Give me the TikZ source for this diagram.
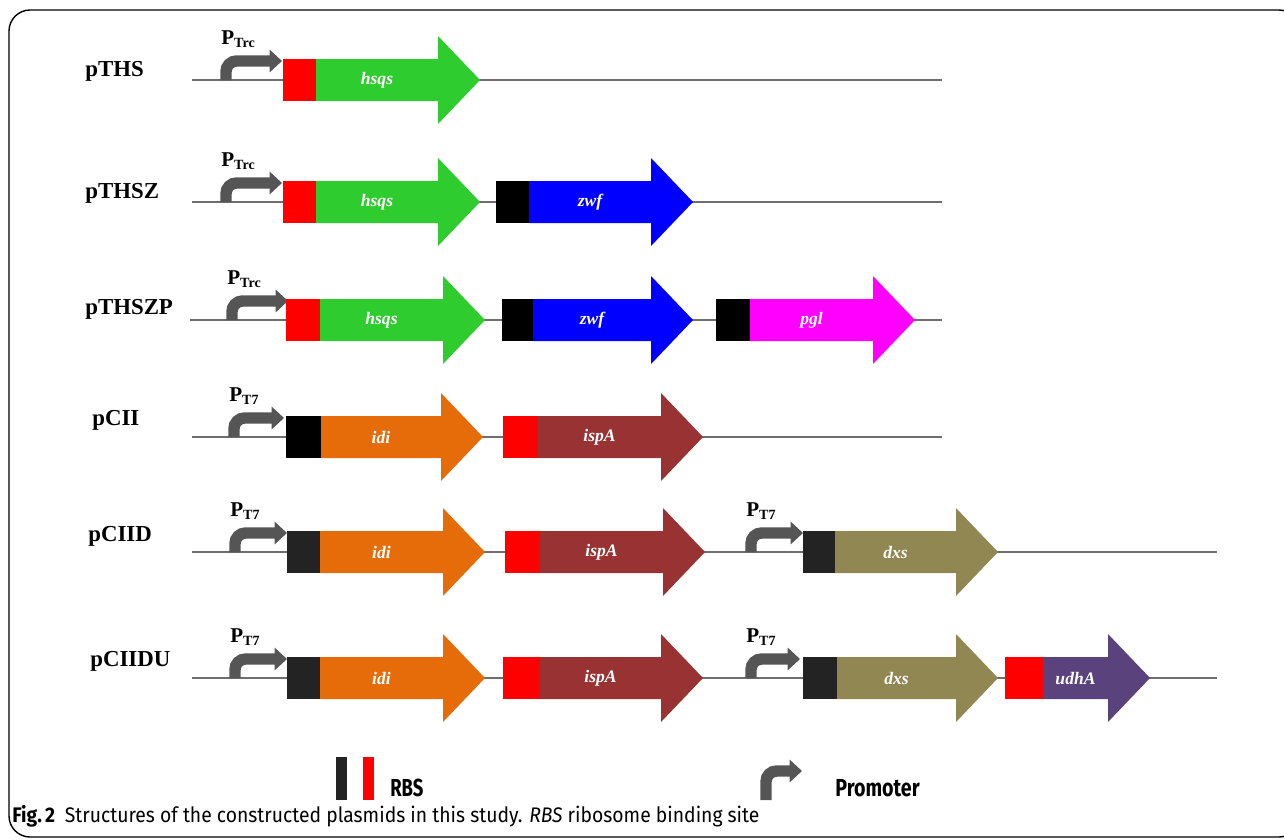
\documentclass[tikz,border=0pt]{standalone}
\usepackage{fontspec}
\usepackage{graphicx}
\setmainfont{Liberation Serif}
\setsansfont{Fira Sans}
\usetikzlibrary{arrows.meta}

\definecolor{hsqsgreen}{RGB}{46,204,46}
\definecolor{zwfblue}{RGB}{0,0,255}
\definecolor{pglpink}{RGB}{255,0,255}
\definecolor{idiorange}{RGB}{230,108,10}
\definecolor{ispabrown}{RGB}{153,51,51}
\definecolor{dxskhaki}{RGB}{145,135,82}
\definecolor{udhapurple}{RGB}{90,66,124}
\definecolor{rbsred}{RGB}{255,0,0}
\definecolor{rbsdark}{RGB}{35,35,35}
\definecolor{promgray}{RGB}{85,85,85}
\definecolor{linegray}{RGB}{110,110,110}

\tikzset{
  backbone/.style={draw=linegray, line width=1.2pt},
  promarrow/.style={draw=promgray, line width=6.5pt, rounded corners=6pt,
    -{Triangle[length=7pt,width=12.5pt]}},
  promlabel/.style={font=\bfseries\fontsize{12}{12}\selectfont, inner sep=0pt},
  genelabel/.style={text=white, font=\bfseries\itshape\fontsize{10}{10}\selectfont, inner sep=0pt},
  plasmid/.style={font=\bfseries\fontsize{13}{13}\selectfont, inner sep=0pt, anchor=base west},
}

% rbs x, body x, tip x, y, rbs colour, gene colour, gene name, node name
\newcommand{\gene}[8]{%
  \fill[#5] (#1,#4-21) rectangle (#2,#4+21);
  \fill[#6] (#2,#4-21) -- (#3-42,#4-21) -- (#3-42,#4-44) -- (#3,#4)
     -- (#3-42,#4+44) -- (#3-42,#4+21) -- (#2,#4+21) -- cycle;
  \node[genelabel] (#8) at ({(#2+#3-42)/2},#4) {#7};
}
% x of the bend, y of the backbone, x of the tip, promoter name, node name
\newcommand{\promo}[5]{%
  \draw[promarrow] (#1,#2) -- (#1,#2-19) -- (#3,#2-19);
  \node[promlabel, anchor=base west] (#5) at (#1-5,#2-36) {P\textsubscript{#4}};
}

\begin{document}
\begin{tikzpicture}[x=0.02cm, y=-0.02cm]
  \useasboundingbox (0,0) rectangle (1284,839);
  % frame
  \draw[line width=0.8pt, rounded corners=12pt] (9,10) rectangle (1300,837);

  % pTHS
  \node[plasmid] (pTHS) at (85,76) {pTHS};
  \draw[backbone] (192,80) -- (942,80);
  \promo{226}{80}{282}{Trc}{p1}
  \gene{283}{316}{480}{80}{rbsred}{hsqsgreen}{hsqs}{g11}

  % pTHSZ
  \node[plasmid] (pTHSZ) at (85,198) {pTHSZ};
  \draw[backbone] (192,202) -- (942,202);
  \promo{226}{202}{282}{Trc}{p2}
  \gene{283}{316}{480}{202}{rbsred}{hsqsgreen}{hsqs}{g21}
  \gene{496}{529}{693}{202}{black}{zwfblue}{zwf}{g22}

  % pTHSZP
  \node[plasmid] (pTHSZP) at (85,314) {pTHSZP};
  \draw[backbone] (190,320) -- (942,320);
  \promo{232}{320}{288}{Trc}{p3}
  \gene{286}{320}{485}{320}{rbsred}{hsqsgreen}{hsqs}{g31}
  \gene{502}{533}{693}{320}{black}{zwfblue}{zwf}{g32}
  \gene{716}{750}{915}{320}{black}{pglpink}{pgl}{g33}

  % pCII
  \node[plasmid] (pCII) at (92,425) {pCII};
  \draw[backbone] (192,437) -- (942,437);
  \promo{234}{437}{284}{T7}{p4}
  \gene{286}{321}{483}{437}{black}{idiorange}{idi}{g41}
  \gene{503}{538}{703}{437}{rbsred}{ispabrown}{ispA}{g42}

  % pCIID
  \node[plasmid] (pCIID) at (88,541) {pCIID};
  \draw[backbone] (192,552) -- (1217,552);
  \promo{235}{552}{287}{T7}{p5}
  \promo{751}{552}{803}{T7}{p6}
  \gene{287}{320}{485}{552}{rbsdark}{idiorange}{idi}{g51}
  \gene{505}{540}{705}{552}{rbsred}{ispabrown}{ispA}{g52}
  \gene{803}{835}{998}{552}{rbsdark}{dxskhaki}{dxs}{g53}

  % pCIIDU
  \node[plasmid] (pCIIDU) at (90,666) {pCIIDU};
  \draw[backbone] (192,678) -- (1217,678);
  \promo{235}{678}{287}{T7}{p7}
  \promo{751}{678}{800}{T7}{p8}
  \gene{287}{320}{485}{678}{rbsdark}{idiorange}{idi}{g61}
  \gene{503}{540}{703}{678}{rbsred}{ispabrown}{ispA}{g62}
  \gene{803}{837}{998}{678}{rbsdark}{dxskhaki}{dxs}{g63}
  \gene{1005}{1043}{1150}{678}{rbsred}{udhapurple}{udhA}{g64}

  % legend
  \fill[rbsdark] (336,757) rectangle (347,800);
  \fill[rbsred] (363,757) rectangle (374,800);
  \node[font=\sffamily\bfseries\fontsize{14}{14}\selectfont, inner sep=0pt, anchor=base west]
    (rbs) at (390,796) {\scalebox{0.75}[1]{RBS}};
  \draw[promarrow] (766,800) -- (766,771) -- (802,771);
  \node[font=\sffamily\bfseries\fontsize{14}{14}\selectfont, inner sep=0pt, anchor=base west]
    (prom) at (835,796) {\scalebox{0.8}[1]{Promoter}};

  % caption
  \node[font=\sffamily\fontsize{12}{12}\selectfont, inner sep=0pt, anchor=base west]
    (caption) at (12,822) {\scalebox{0.917}[1]{\textbf{Fig.\,2}\enspace Structures of the constructed plasmids in this study. \textit{RBS} ribosome binding site}};
\end{tikzpicture}
\end{document}
